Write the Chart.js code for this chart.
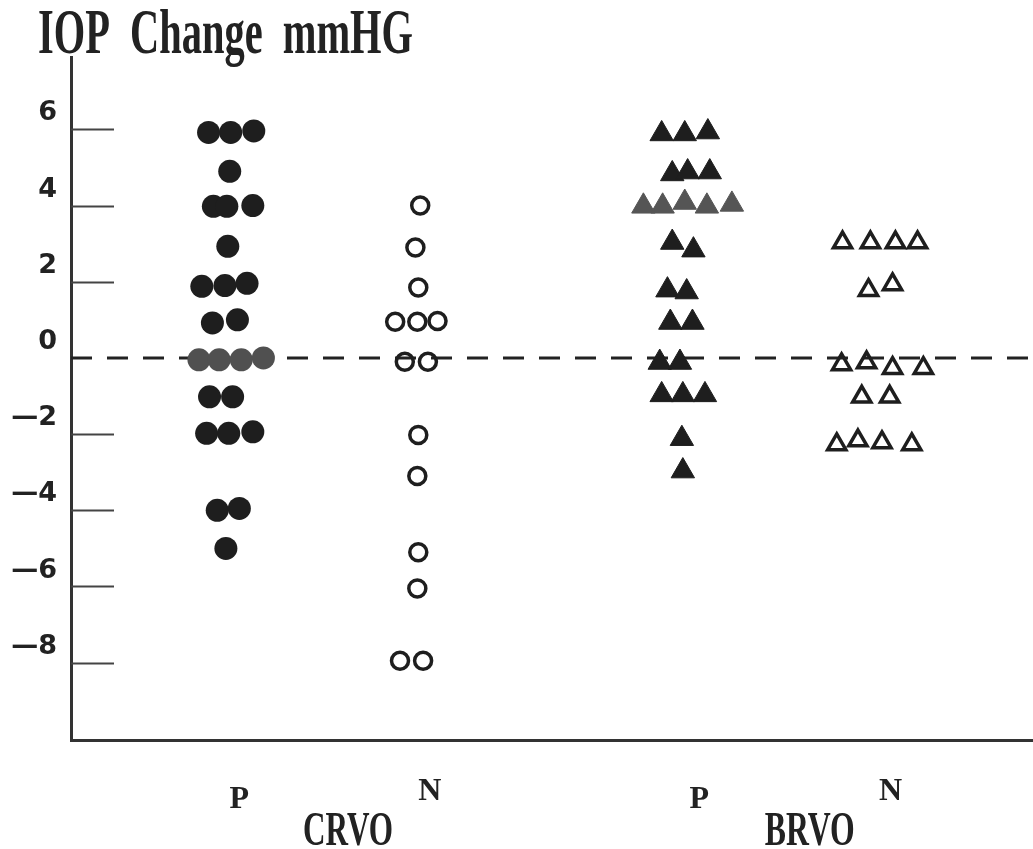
<!DOCTYPE html>
<html>
<head>
<meta charset="utf-8">
<script src="https://cdn.jsdelivr.net/npm/chart.js@4.4.1/dist/chart.umd.min.js"></script>
<style>
  html, body { margin: 0; padding: 0; background: #fff; }
  #wrap { width: 1033px; height: 849px; }
</style>
</head>
<body>
<div id="wrap"><canvas id="iop_chart" width="1033" height="849"></canvas></div>
<script>
// y ticks shown on the axis
const yTicks = [-8, -6, -4, -2, 0, 2, 4, 6]

// x labels (positions in x units)
const subLabels = ['P', 'N', 'P', 'N']
const subLabelPos = [1.75, 3.73, 6.53, 8.52]
const groupLabels = ['CRVO', 'BRVO']
const groupLabelPos = [2.88, 7.68]

// CRVO, P : filled circles
const crvoP_x = [1.43, 1.66, 1.90, 1.65, 1.48, 1.62, 1.89, 1.63, 1.36, 1.60, 1.83, 1.47, 1.73, 1.44, 1.68, 1.41, 1.64, 1.89, 1.52, 1.75, 1.61]
const crvoP_y = [5.92, 5.92, 5.96, 4.9, 3.98, 3.98, 4.0, 2.93, 1.88, 1.9, 1.96, 0.92, 1.0, -1.02, -1.02, -1.98, -1.98, -1.94, -4.0, -3.95, -5.0]
// CRVO, P : grey circles on the zero line
const crvoP0_x = [1.33, 1.54, 1.77, 2.0]
const crvoP0_y = [-0.05, -0.05, -0.05, 0.0]

// CRVO, N : open circles
const crvoN_x = [3.63, 3.58, 3.61, 3.37, 3.60, 3.81, 3.47, 3.71, 3.61, 3.60, 3.61, 3.60, 3.42, 3.66]
const crvoN_y = [4.0, 2.9, 1.85, 0.95, 0.95, 0.97, -0.1, -0.1, -2.02, -3.1, -5.1, -6.05, -7.95, -7.95]

// BRVO, P : filled triangles
const brvoP_x = [6.14, 6.38, 6.62, 6.25, 6.41, 6.64, 6.25, 6.47, 6.20, 6.40, 6.23, 6.46, 6.12, 6.33, 6.14, 6.36, 6.59, 6.35, 6.36]
const brvoP_y = [5.88, 5.88, 5.93, 4.83, 4.88, 4.88, 3.03, 2.83, 1.78, 1.73, 0.93, 0.93, -0.12, -0.12, -0.97, -0.97, -0.97, -2.12, -2.97]
// BRVO, P : grey triangles at 4
const brvoP4_x = [5.95, 6.15, 6.38, 6.61, 6.87]
const brvoP4_y = [3.98, 3.98, 4.08, 3.98, 4.03]

// BRVO, N : open triangles
const brvoN_x = [8.02, 8.31, 8.57, 8.80, 8.29, 8.54, 8.01, 8.27, 8.54, 8.86, 8.22, 8.51, 7.96, 8.18, 8.43, 8.74]
const brvoN_y = [3.03, 3.03, 3.03, 3.03, 1.78, 1.93, -0.17, -0.12, -0.27, -0.27, -1.02, -1.02, -2.27, -2.17, -2.22, -2.27]

const toPoints = (xs, ys) => xs.map((x, i) => ({ x: x, y: ys[i] }))

const ink = '#1e1e1e'

const markerDataset = (label, xs, ys, style, radius, fill, border, borderWidth) => ({
    label: label,
    data: toPoints(xs, ys),
    pointStyle: style,
    pointRadius: radius,
    backgroundColor: fill,
    borderColor: border,
    borderWidth: borderWidth,
    order: 1
})

const extraDraw = {
    id: 'extraDraw',
    beforeDatasetsDraw(chart) {
        const ctx = chart.ctx
        const yScale = chart.scales.y
        const left = chart.chartArea.left
        ctx.save()
        ctx.strokeStyle = '#444'
        ctx.lineWidth = 2
        for (const v of yTicks) {
            if (v === 0) continue
            const py = Math.round(yScale.getPixelForValue(v)) + 0.5
            ctx.beginPath()
            ctx.moveTo(left, py)
            ctx.lineTo(left + 43, py)
            ctx.stroke()
        }
        ctx.restore()
    },
    afterDraw(chart) {
        const ctx = chart.ctx
        const xScale = chart.scales.x
        ctx.save()
        ctx.fillStyle = '#222'
        ctx.textBaseline = 'alphabetic'

        // condensed serif text, squeezed to a target width
        const squeezed = (text, font, x, y, width, align) => {
            ctx.font = font
            const w = ctx.measureText(text).width
            const s = width / w
            const startX = align === 'center' ? x - width / 2 : x
            ctx.save()
            ctx.translate(startX, y)
            ctx.scale(s, 1)
            ctx.textAlign = 'left'
            ctx.fillText(text, 0, 0)
            ctx.restore()
        }

        squeezed('IOP  Change  mmHG', 'bold 63px "Liberation Serif", serif', 38, 53, 375, 'left')

        ctx.font = 'bold 32px "Liberation Serif", serif'
        ctx.textAlign = 'center'
        subLabels.forEach((t, i) => {
            const baseline = t === 'N' ? 800 : 808
            ctx.fillText(t, xScale.getPixelForValue(subLabelPos[i]), baseline)
        })

        groupLabels.forEach((t, i) => {
            squeezed(t, 'bold 48px "Liberation Serif", serif', xScale.getPixelForValue(groupLabelPos[i]), 845, 90, 'center')
        })
        ctx.restore()
    }
}

const ctx_iop = document.getElementById('iop_chart')

const iop_chart = new Chart(ctx_iop, {
    type: 'scatter',
    data: {
        datasets: [
            markerDataset('CRVO P', crvoP_x, crvoP_y, 'circle', 11.5, ink, ink, 0),
            markerDataset('CRVO P 0', crvoP0_x, crvoP0_y, 'circle', 11.5, '#505050', '#505050', 0),
            markerDataset('CRVO N', crvoN_x, crvoN_y, 'circle', 8.5, 'rgba(0,0,0,0)', ink, 3.5),
            markerDataset('BRVO P', brvoP_x, brvoP_y, 'triangle', 13.5, ink, ink, 1),
            markerDataset('BRVO P 4', brvoP4_x, brvoP4_y, 'triangle', 13.5, '#555', '#555', 1),
            markerDataset('BRVO N', brvoN_x, brvoN_y, 'triangle', 10.5, 'rgba(0,0,0,0)', ink, 3.5),
            {
                type: 'line',
                label: 'zero',
                data: [{ x: 0, y: 0 }, { x: 10, y: 0 }],
                borderColor: '#222',
                borderWidth: 3,
                borderDash: [21, 15],
                pointRadius: 0,
                fill: false,
                order: 10
            }
        ]
    },
    options: {
        responsive: false,
        animation: false,
        events: [],
        layout: { autoPadding: false, padding: { top: 57, bottom: 109, left: 0, right: 0 } },
        plugins: {
            legend: { display: false },
            tooltip: { enabled: false }
        },
        scales: {
            x: {
                type: 'linear',
                min: 0,
                max: 10,
                ticks: { display: false },
                grid: { display: false, drawTicks: false },
                border: { color: '#333', width: 3 },
                afterFit: (axis) => { axis.height = 0 }
            },
            y: {
                type: 'linear',
                min: -10.03,
                max: 7.9,
                afterBuildTicks: (axis) => { axis.ticks = yTicks.map(v => ({ value: v })) },
                ticks: {
                    padding: 14,
                    labelOffset: -16,
                    color: '#222',
                    font: { family: '"DejaVu Sans", sans-serif', size: 27, weight: 'bold' },
                    callback: (v) => v < 0 ? '\u2014' + Math.abs(v) : String(v)
                },
                grid: { display: false, drawTicks: false },
                border: { color: '#333', width: 3 },
                afterFit: (axis) => { axis.width = 71 }
            }
        }
    },
    plugins: [extraDraw]
})
</script>
</body>
</html>
